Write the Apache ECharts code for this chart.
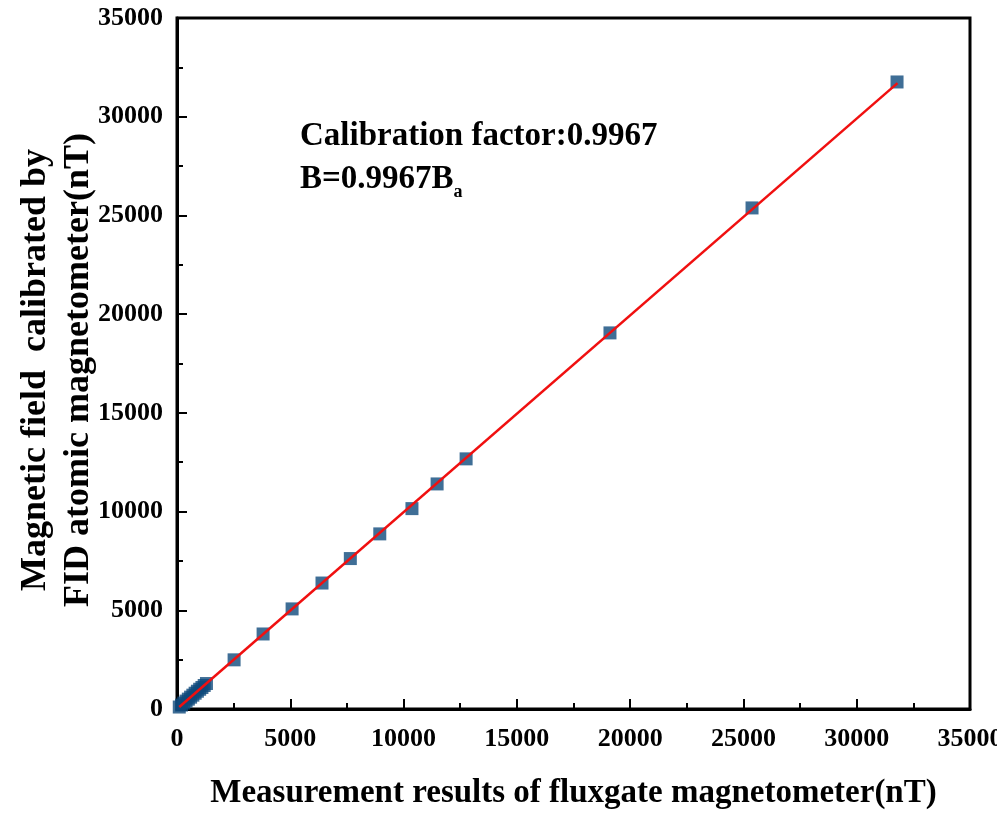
<!DOCTYPE html>
<html>
<head>
<meta charset="utf-8">
<script src="https://cdn.jsdelivr.net/npm/echarts@6/dist/echarts.min.js"></script>
<style>
  html, body { margin: 0; padding: 0; background: #fff; }
  #chart { width: 997px; height: 829px; }
</style>
</head>
<body>
<div id="chart"></div>
<script>
// 数据：磁通门测量值 vs FID 原子磁力计标定值
var fluxgate = [100, 200, 300, 400, 500, 600, 700, 800, 900, 1000, 1100, 1200, 1300,
                2520, 3800, 5080, 6400, 7650, 8950, 10370, 11480, 12760, 19110, 25380, 31780];
var fid = [100, 200, 300, 400, 500, 600, 700, 800, 900, 1000, 1090, 1190, 1290,
           2490, 3800, 5070, 6380, 7620, 8870, 10150, 11400, 12670, 19050, 25380, 31760];
var fitX = [100, 31800];
var fitY = [100, 31700];
var xTicks = [0, 5000, 10000, 15000, 20000, 25000, 30000, 35000];
var yTicks = [0, 5000, 10000, 15000, 20000, 25000, 30000, 35000];

var points = [];
for (var i = 0; i < fluxgate.length; i++) {
    points.push([fluxgate[i], fid[i]]);
}
var fitLine = [];
for (var j = 0; j < fitX.length; j++) {
    fitLine.push([fitX[j], fitY[j]]);
}

var font = '"Liberation Serif", "Times New Roman", serif';
var myChart = echarts.init(document.getElementById('chart'));

var axisCommon = {
    type: 'value',
    interval: 5000,
    splitLine: { show: false },
    axisLine: { show: true, lineStyle: { color: '#000', width: 3 } },
    axisTick: { show: true, inside: true, length: 10, lineStyle: { color: '#000', width: 2 } },
    minorTick: { show: true, splitNumber: 2, length: 6, lineStyle: { color: '#000', width: 2 } },
    nameLocation: 'middle'
};

option = {
    animation: false,
    backgroundColor: '#fff',
    grid: {
        left: 177, right: 27, top: 18, bottom: 120,
        outerBoundsMode: 'none',
        containLabel: false,
        show: true, borderColor: '#000', borderWidth: 3
    },
    xAxis: echarts.util.merge({
        min: xTicks[0],
        max: xTicks[xTicks.length - 1],
        name: 'Measurement results of fluxgate magnetometer(nT)',
        nameGap: 68,
        nameTextStyle: { fontFamily: font, fontWeight: 'bold', fontSize: 33, color: '#000' },
        axisLabel: {
            margin: 17,
            fontFamily: font, fontWeight: 'bold', fontSize: 26, color: '#000',
            showMaxLabel: true,
            formatter: function (v) { return String(v); }
        }
    }, axisCommon, false),
    yAxis: echarts.util.merge({
        min: yTicks[0],
        max: yTicks[yTicks.length - 1],
        axisLabel: {
            margin: 14,
            fontFamily: font, fontWeight: 'bold', fontSize: 26, color: '#000',
            formatter: function (v) { return String(v); }
        }
    }, axisCommon, false),
    graphic: [{
        // y 轴标题（两行，旋转）
        type: 'text',
        x: 57,
        y: 370,
        rotation: Math.PI / 2,
        style: {
            text: 'Magnetic field  calibrated by\nFID atomic magnetometer(nT)',
            fontFamily: font, fontWeight: 'bold', fontSize: 36, lineHeight: 43,
            fill: '#000', align: 'center', verticalAlign: 'middle'
        }
    }, {
        type: 'text',
        left: 300,
        top: 120,
        style: {
            text: '{t|Calibration factor:0.9967}\n{t|B=0.9967B}{s|a}',
            rich: {
                t: { fontFamily: font, fontWeight: 'bold', fontSize: 33, lineHeight: 42, fill: '#000' },
                s: { fontFamily: font, fontWeight: 'bold', fontSize: 18, fill: '#000', padding: [26, 0, 0, 0] }
            }
        }
    }],
    series: [
        {
            type: 'scatter',
            data: points,
            symbol: 'rect',
            symbolSize: 13,
            itemStyle: { color: '#0f4a7c' },
            z: 2
        },
        {
            type: 'line',
            data: fitLine,
            showSymbol: false,
            symbol: 'none',
            lineStyle: { color: '#f01010', width: 2.5 },
            z: 3
        }
    ]
};

myChart.setOption(option);
</script>
</body>
</html>
